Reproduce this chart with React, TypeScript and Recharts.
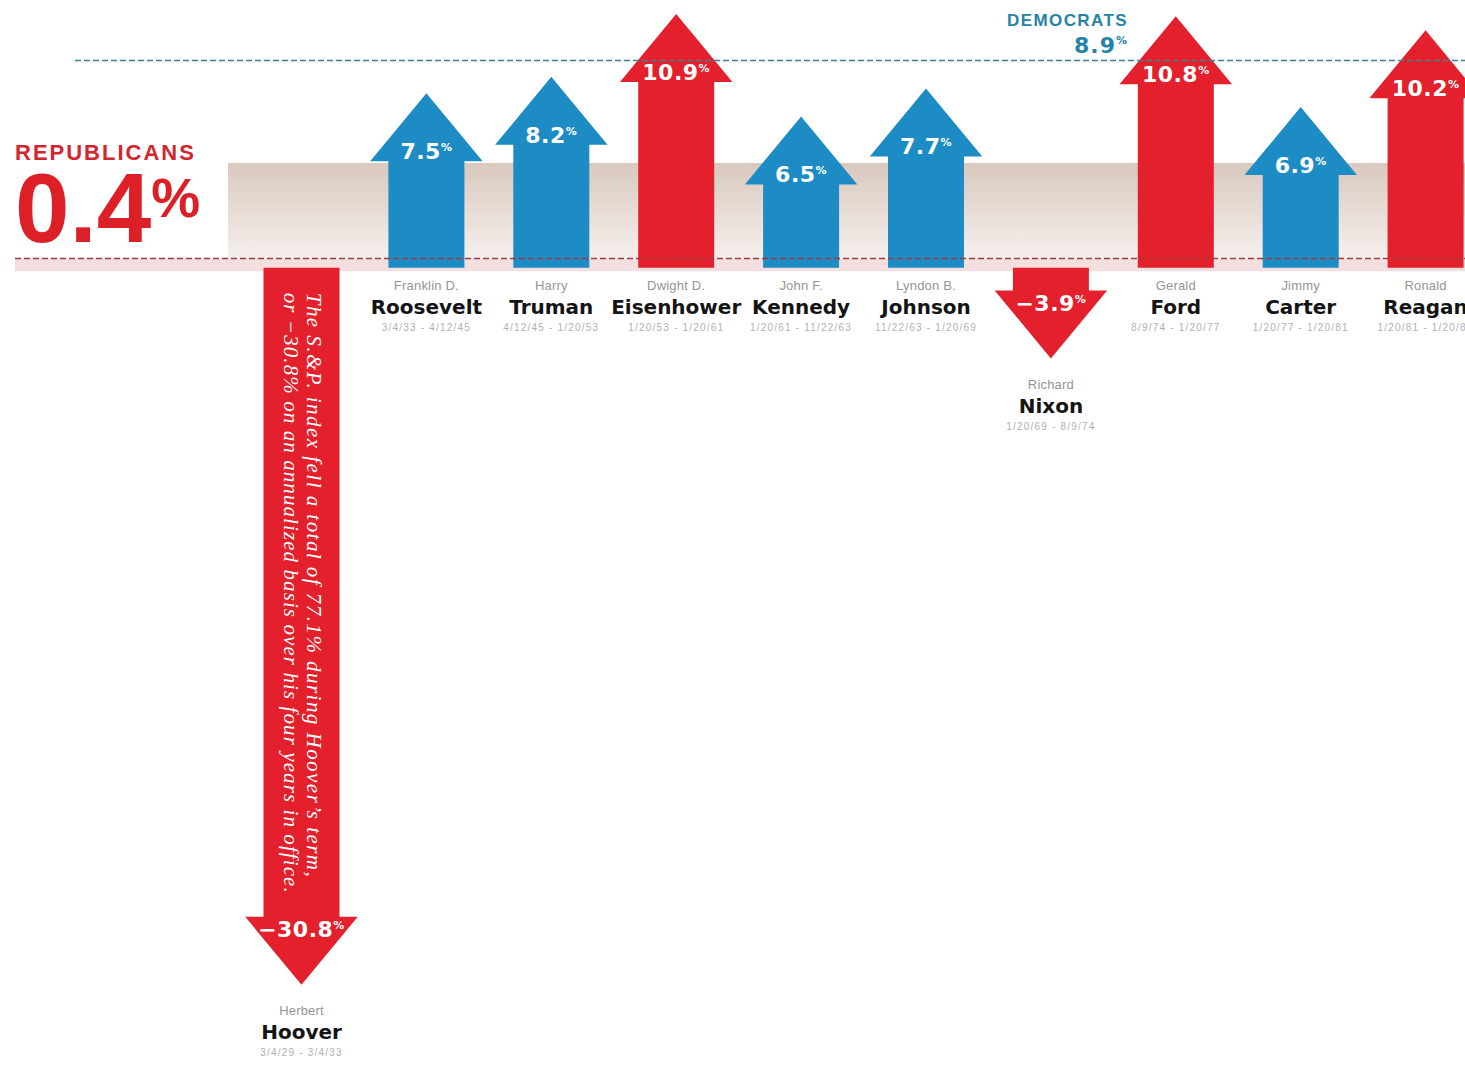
import { BarChart, Bar, XAxis, YAxis, ReferenceLine, ReferenceArea } from "recharts";

// S&P 500 annualized return by president, in office order
const firstNames = ["Herbert", "Franklin D.", "Harry", "Dwight D.", "John F.", "Lyndon B.", "Richard", "Gerald", "Jimmy", "Ronald"];
const lastNames = ["Hoover", "Roosevelt", "Truman", "Eisenhower", "Kennedy", "Johnson", "Nixon", "Ford", "Carter", "Reagan"];
const terms = [
  "3/4/29 - 3/4/33",
  "3/4/33 - 4/12/45",
  "4/12/45 - 1/20/53",
  "1/20/53 - 1/20/61",
  "1/20/61 - 11/22/63",
  "11/22/63 - 1/20/69",
  "1/20/69 - 8/9/74",
  "8/9/74 - 1/20/77",
  "1/20/77 - 1/20/81",
  "1/20/81 - 1/20/89",
];
const returns = [-30.8, 7.5, 8.2, 10.9, 6.5, 7.7, -3.9, 10.8, 6.9, 10.2];
const parties = ["R", "D", "D", "R", "D", "D", "R", "R", "D", "R"];

const republicanAvg = 0.4;
const democratAvg = 8.9;
const bandTop = 4.5;
const stripBottom = -0.15;

const hooverNote = [
  "The S.&P. index fell a total of 77.1% during Hoover\u2019s term,",
  "or \u221230.8% on an annualized basis over his four years in office.",
];

const RED = "#e3202b";
const BLUE = "#1d8bc4";
const SANS = "'Liberation Sans', Arial, sans-serif";
const HEAVY = "'DejaVu Sans', 'Liberation Sans', sans-serif";

const data = lastNames.map((name, i) => ({
  name,
  first: firstNames[i],
  term: terms[i],
  value: returns[i],
  party: parties[i],
  note: name === "Hoover" ? hooverNote : null,
}));

const fmt = (v: number) => (v < 0 ? "\u2212" + Math.abs(v).toFixed(1) : v.toFixed(1));

function Arrow(props: any) {
  const { x, y, width, height, payload } = props;
  const top = Math.min(y, y + height);
  const bottom = Math.max(y, y + height);
  const up = payload.value >= 0;
  const base = up ? bottom : top;
  const tip = up ? top : bottom;
  const cx = x + width / 2;
  const sw = width / 2;
  const hw = width * 0.74;
  const hh = 68;
  const dir = up ? 1 : -1;
  const neck = tip + dir * hh;
  const pts = [
    [cx - sw, base],
    [cx - sw, neck],
    [cx - hw, neck],
    [cx, tip],
    [cx + hw, neck],
    [cx + sw, neck],
    [cx + sw, base],
  ]
    .map((p) => p.join(","))
    .join(" ");
  const fill = payload.party === "R" ? RED : BLUE;
  const labelY = up ? neck - 2 : neck + 20;
  const nameTop = up ? base : tip + 8;
  return (
    <g>
      <polygon points={pts} fill={fill} />
      <text x={cx} y={labelY} textAnchor="middle" fill="#fff" fontFamily={HEAVY} fontWeight="bold" fontSize={22} letterSpacing={0.5}>
        {fmt(payload.value)}
        <tspan fontSize={11} dy={-8}>%</tspan>
      </text>
      {payload.note &&
        payload.note.map((line: string, i: number) => {
          const px = cx + (i === 0 ? 5 : -18);
          const py = base + 25;
          return (
            <text
              key={i}
              x={px}
              y={py}
              transform={`rotate(90, ${px}, ${py})`}
              fill="#fff"
              fontFamily="'Liberation Serif', 'DejaVu Serif', serif"
              fontStyle="italic"
              fontSize={21}
              textLength={i === 0 ? 584 : 600}
              lengthAdjust="spacing"
            >
              {line}
            </text>
          );
        })}
      <text x={cx} y={nameTop + 22} textAnchor="middle" fill="#959595" fontFamily={SANS} fontSize={13} letterSpacing={0.2}>
        {payload.first}
      </text>
      <text x={cx} y={nameTop + 46} textAnchor="middle" fill="#141414" fontFamily={HEAVY} fontWeight="bold" fontSize={20}>
        {payload.name}
      </text>
      <text x={cx} y={nameTop + 63} textAnchor="middle" fill="#b0b0b0" fontFamily={SANS} fontSize={10} letterSpacing={1.2}>
        {payload.term}
      </text>
    </g>
  );
}

function RepublicanLine(props: any) {
  const { y1, x2 } = props;
  return (
    <g>
      <line x1={15} y1={y1} x2={x2} y2={y1} stroke="#9a3b40" strokeWidth={1.6} strokeDasharray="6 3" />
      <text x={15} y={y1 - 98} fill="#d3262e" fontFamily={SANS} fontWeight="bold" fontSize={22} letterSpacing={2}>
        REPUBLICANS
      </text>
      <text x={15} y={y1 - 16} fill="#dd1f28" fontFamily={SANS} fontWeight="bold" fontSize={98}>
        {republicanAvg.toFixed(1)}
        <tspan fontSize={55} dy={-25}>%</tspan>
      </text>
    </g>
  );
}

function DemocratLine(props: any) {
  const { y1, x2 } = props;
  return (
    <g>
      <line x1={75} y1={y1} x2={x2} y2={y1} stroke="#3f7f95" strokeWidth={1.5} strokeDasharray="6 3" />
      <text x={1128} y={y1 - 35} textAnchor="end" fill="#2483a6" fontFamily={SANS} fontWeight="bold" fontSize={17} letterSpacing={1.4}>
        DEMOCRATS
      </text>
      <text x={1128} y={y1 - 8} textAnchor="end" fill="#2483a6" fontFamily={HEAVY} fontWeight="bold" fontSize={22} letterSpacing={1}>
        {democratAvg.toFixed(1)}
        <tspan fontSize={11} dy={-9}>%</tspan>
      </text>
    </g>
  );
}

function Band(props: any) {
  const { x, y, width, height } = props;
  return <rect x={228} y={y} width={x + width - 228} height={height} fill="url(#bandGrad)" />;
}

function Strip(props: any) {
  const { x, y, width, height } = props;
  return <rect x={15} y={y} width={x + width - 15} height={height} fill="#f3dfe0" />;
}

export default function App() {
  return (
    <div style={{ position: "absolute", left: 0, top: 0, width: 1465, height: 1071, overflow: "hidden", background: "#fff" }}>
      <BarChart width={1500} height={1071} data={data} margin={{ top: 0, right: 11.5, left: 239.5, bottom: 0 }} barSize={76}>
        <defs>
          <linearGradient id="bandGrad" x1="0" y1="0" x2="0" y2="1">
            <stop offset="0%" stopColor="#d9c8be" />
            <stop offset="100%" stopColor="#f6f0ed" />
          </linearGradient>
        </defs>
        <XAxis dataKey="name" hide />
        <YAxis hide domain={[-34.5, 11.5]} allowDataOverflow />
        <ReferenceArea y1={republicanAvg} y2={bandTop} shape={Band} />
        <ReferenceArea y1={stripBottom} y2={republicanAvg} shape={Strip} />
        <Bar dataKey="value" shape={Arrow} isAnimationActive={false} />
        <ReferenceLine y={republicanAvg} shape={RepublicanLine} />
        <ReferenceLine y={democratAvg} shape={DemocratLine} />
      </BarChart>
    </div>
  );
}
